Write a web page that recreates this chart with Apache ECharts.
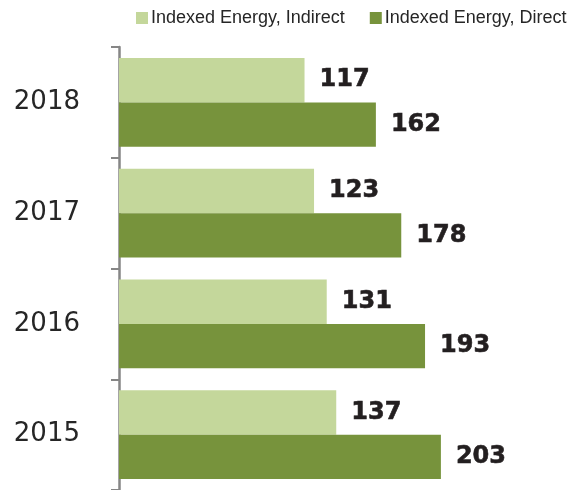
<!DOCTYPE html>
<html>
<head>
<meta charset="utf-8">
<script src="https://cdn.jsdelivr.net/npm/echarts@6/dist/echarts.min.js"></script>
<style>
  html, body { margin: 0; padding: 0; background: #fff; }
  #chart { width: 585px; height: 490px; }
</style>
</head>
<body>
<div id="chart"></div>
<script>
  // years, bottom to top
  const years = ['2015', '2016', '2017', '2018'];
  const indirect = [137, 131, 123, 117];
  const direct = [203, 193, 178, 162];

  const labelStyle = {
    show: true,
    position: 'right',
    distance: 15,
    fontFamily: 'DejaVu Sans',
    fontWeight: 'bold',
    fontSize: 24,
    color: '#231f20',
    textBorderColor: '#231f20',
    textBorderWidth: 0.6
  };

  let myChart = echarts.init(document.getElementById('chart'));
  myChart.setOption({
    animation: false,
    legend: {
      left: 131,
      top: 4,
      itemWidth: 12,
      itemHeight: 12,
      itemGap: 25,
      icon: 'rect',
      textStyle: { fontFamily: 'Liberation Sans', fontSize: 18, color: '#262626', padding: [0, 0, 0, -2] },
      data: ['Indexed Energy, Indirect', 'Indexed Energy, Direct']
    },
    grid: { left: 119, right: 22, top: 47, bottom: -3 },
    xAxis: {
      type: 'value',
      min: 0,
      max: 280,
      show: false
    },
    yAxis: {
      type: 'category',
      data: years,
      axisLine: { show: true, lineStyle: { color: '#868686', width: 2.5 } },
      axisTick: { show: true, length: 8, lineStyle: { color: '#868686', width: 2 } },
      axisLabel: { margin: 39, fontFamily: 'DejaVu Sans', fontSize: 26, color: '#262626' }
    },
    series: [
      {
        name: 'Indexed Energy, Indirect',
        type: 'bar',
        data: indirect,
        barGap: '0%',
        barCategoryGap: '20%',
        itemStyle: { color: '#c4d79b' },
        label: labelStyle
      },
      {
        name: 'Indexed Energy, Direct',
        type: 'bar',
        data: direct,
        barGap: '0%',
        barCategoryGap: '20%',
        itemStyle: { color: '#77933c' },
        label: labelStyle
      }
    ]
  });
</script>
</body>
</html>
